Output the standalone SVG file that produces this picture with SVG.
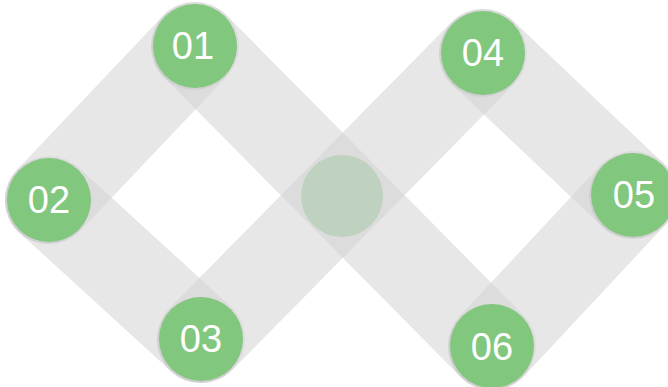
<svg xmlns="http://www.w3.org/2000/svg" xmlns:xlink="http://www.w3.org/1999/xlink" width="668" height="387" viewBox="0 0 668 387">
<style>
.band{stroke:#e7e7e7}
.ov{stroke:#dcdcdc}
.node{fill:#81c77e}
.shadow{fill:#000;fill-opacity:0.05}
.lbl{font-family:"Liberation Sans",Arial,sans-serif;font-size:38px;fill:#ffffff;text-anchor:middle}
</style>
<defs>
<line id="b1" x1="195" y1="46" x2="49" y2="200" stroke-width="88" stroke-linecap="round"/>
<line id="b2" x1="49" y1="200" x2="201" y2="339" stroke-width="88" stroke-linecap="round"/>
<line id="b3" x1="195" y1="46" x2="492" y2="346" stroke-width="88" stroke-linecap="round"/>
<line id="b4" x1="201" y1="339" x2="483" y2="53" stroke-width="88" stroke-linecap="round"/>
<line id="b5" x1="483" y1="53" x2="633" y2="195" stroke-width="88" stroke-linecap="round"/>
<line id="b6" x1="633" y1="195" x2="492" y2="346" stroke-width="88" stroke-linecap="round"/>
<mask id="m2" maskUnits="userSpaceOnUse" x="0" y="0" width="668" height="387"><use xlink:href="#b2" stroke="#fff"/></mask>
<mask id="m3" maskUnits="userSpaceOnUse" x="0" y="0" width="668" height="387"><use xlink:href="#b3" stroke="#fff"/></mask>
<mask id="m4" maskUnits="userSpaceOnUse" x="0" y="0" width="668" height="387"><use xlink:href="#b4" stroke="#fff"/></mask>
<mask id="m5" maskUnits="userSpaceOnUse" x="0" y="0" width="668" height="387"><use xlink:href="#b5" stroke="#fff"/></mask>
<mask id="m6" maskUnits="userSpaceOnUse" x="0" y="0" width="668" height="387"><use xlink:href="#b6" stroke="#fff"/></mask>
</defs>
<g id="connectors">
<use xlink:href="#b1" class="band"/>
<use xlink:href="#b2" class="band"/>
<use xlink:href="#b3" class="band"/>
<use xlink:href="#b4" class="band"/>
<use xlink:href="#b5" class="band"/>
<use xlink:href="#b6" class="band"/>
<use xlink:href="#b1" class="ov" mask="url(#m2)"/>
<use xlink:href="#b1" class="ov" mask="url(#m3)"/>
<use xlink:href="#b2" class="ov" mask="url(#m4)"/>
<use xlink:href="#b3" class="ov" mask="url(#m4)"/>
<use xlink:href="#b4" class="ov" mask="url(#m5)"/>
<use xlink:href="#b5" class="ov" mask="url(#m6)"/>
<use xlink:href="#b6" class="ov" mask="url(#m3)"/>
</g>
<g id="center">
<circle cx="342" cy="196" r="41" fill="#bfd2bf"/>
</g>
<g id="n01">
<circle class="shadow" cx="194" cy="47" r="43"/>
<circle class="node" cx="195" cy="46" r="42"/>
<text class="lbl" x="193" y="59">01</text>
</g>
<g id="n02">
<circle class="shadow" cx="48" cy="201" r="43"/>
<circle class="node" cx="49" cy="200" r="42"/>
<text class="lbl" x="49" y="213">02</text>
</g>
<g id="n03">
<circle class="shadow" cx="200" cy="340" r="43"/>
<circle class="node" cx="201" cy="339" r="42"/>
<text class="lbl" x="201" y="352">03</text>
</g>
<g id="n04">
<circle class="shadow" cx="482" cy="54" r="43"/>
<circle class="node" cx="483" cy="53" r="42"/>
<text class="lbl" x="483" y="66">04</text>
</g>
<g id="n05">
<circle class="shadow" cx="632" cy="196" r="43"/>
<circle class="node" cx="633" cy="195" r="42"/>
<text class="lbl" x="634" y="208">05</text>
</g>
<g id="n06">
<circle class="shadow" cx="491" cy="347" r="43"/>
<circle class="node" cx="492" cy="346" r="42"/>
<text class="lbl" x="492" y="360">06</text>
</g>
</svg>
